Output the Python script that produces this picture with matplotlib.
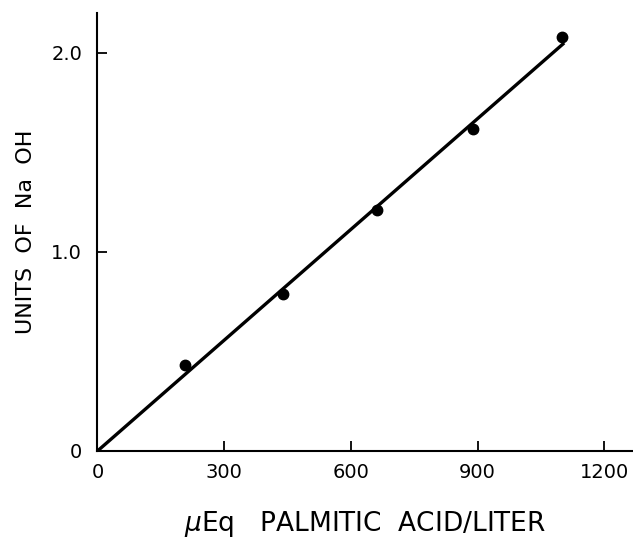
#!/usr/bin/env python3
"""NaOH units vs palmitic acid concentration."""

import matplotlib
matplotlib.use("Agg")
import matplotlib.pyplot as plt

# measured points
acid_ueq = [207, 440, 662, 890, 1101]
naoh_units = [0.43, 0.79, 1.21, 1.62, 2.08]

# fitted line
fit_x = [0, 1105]
fit_y = [0, 2.05]

x_ticks = [0, 300, 600, 900, 1200]
y_ticks = [0, 1.0, 2.0]
y_ticklabels = ["0", "1.0", "2.0"]

plt.rcParams["font.family"] = ["DejaVu Sans"]

fig = plt.figure(figsize=(6.33, 5.45), dpi=100)
ax = fig.add_axes([0.154, 0.1725, 0.846, 0.8035])

ax.plot(fit_x, fit_y, color="black", linewidth=2.4, solid_capstyle="butt")
ax.plot(acid_ueq, naoh_units, "o", color="black", markersize=7.5)

ax.set_xlim(0, 1268)
ax.set_ylim(0, 2.2)
ax.set_xticks(x_ticks)
ax.set_yticks(y_ticks)
ax.set_yticklabels(y_ticklabels)

for s in ("top", "right"):
    ax.spines[s].set_visible(False)
for s in ("left", "bottom"):
    ax.spines[s].set_linewidth(1.5)

ax.tick_params(direction="in", length=7, width=1.3, labelsize=14)
ax.tick_params(axis="x", pad=9)
ax.tick_params(axis="y", pad=11)
ax.set_xlabel(r"$\mu$Eq   PALMITIC  ACID/LITER", fontsize=19, labelpad=19)
ax.set_ylabel("UNITS  OF  Na  OH", fontsize=16, labelpad=11)

fig.savefig("out.png", dpi=100)
print("Saved out.png")
